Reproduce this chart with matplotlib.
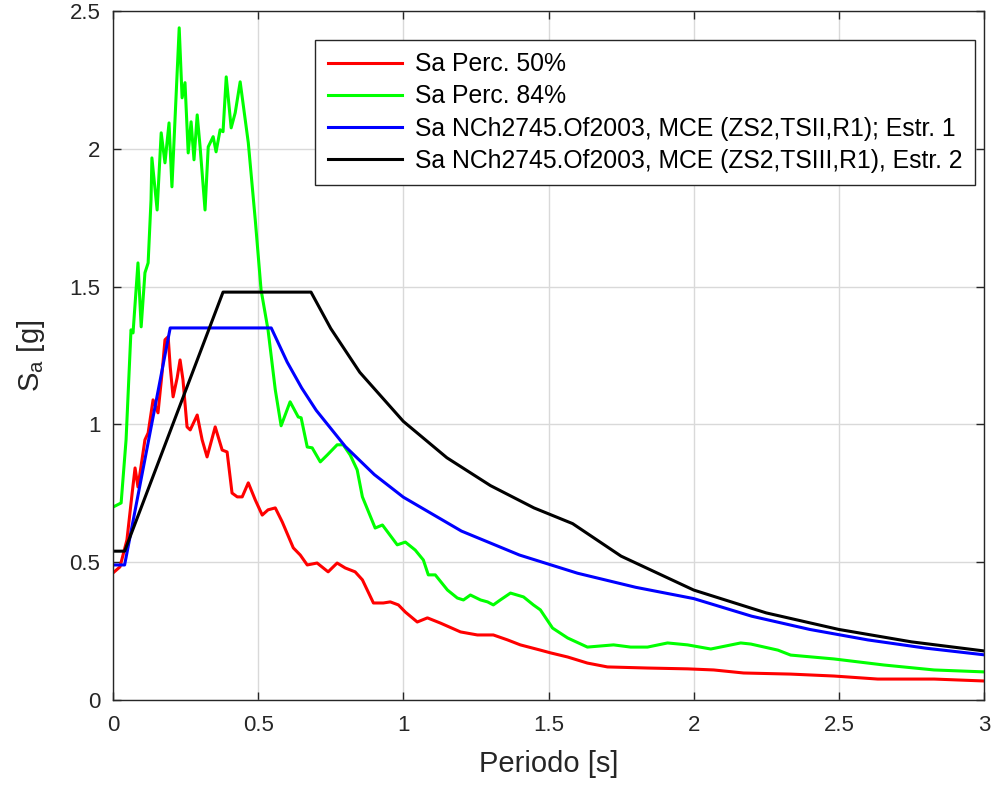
import numpy as np
import matplotlib.pyplot as plt
from matplotlib.ticker import FuncFormatter

plt.rcParams['font.family'] = ['Liberation Sans', 'DejaVu Sans']

# Sa percentil 50%
t_50 = [0, 0.024, 0.048, 0.066, 0.076, 0.086, 0.110, 0.121, 0.138, 0.155, 0.169, 0.179, 0.190, 0.197,
        0.207, 0.221, 0.231, 0.241, 0.255, 0.266, 0.290, 0.307, 0.324, 0.352, 0.376, 0.393, 0.410, 0.428,
        0.445, 0.466, 0.490, 0.514, 0.534, 0.559, 0.583, 0.621, 0.645, 0.669, 0.703, 0.741, 0.772, 0.800,
        0.834, 0.859, 0.897, 0.931, 0.955, 0.983, 1.007, 1.048, 1.083, 1.128, 1.197, 1.255, 1.310, 1.359,
        1.403, 1.472, 1.507, 1.566, 1.634, 1.703, 1.841, 1.979, 2.069, 2.172, 2.334, 2.483, 2.634, 2.828, 3.0]
sa_50 = [0.461, 0.483, 0.581, 0.751, 0.842, 0.773, 0.944, 0.969, 1.089, 1.042, 1.187, 1.307, 1.318, 1.209,
         1.100, 1.169, 1.234, 1.162, 0.991, 0.980, 1.034, 0.944, 0.882, 0.991, 0.907, 0.900, 0.751, 0.737,
         0.737, 0.788, 0.726, 0.671, 0.690, 0.697, 0.646, 0.552, 0.526, 0.490, 0.497, 0.465, 0.497, 0.479,
         0.465, 0.436, 0.352, 0.352, 0.356, 0.345, 0.319, 0.283, 0.298, 0.279, 0.247, 0.236, 0.236, 0.218,
         0.200, 0.181, 0.171, 0.156, 0.134, 0.120, 0.116, 0.113, 0.109, 0.098, 0.094, 0.087, 0.076, 0.076, 0.069]

# Sa percentil 84%
t_84 = [0, 0.028, 0.045, 0.062, 0.069, 0.086, 0.097, 0.110, 0.121, 0.131, 0.134, 0.152, 0.166, 0.179,
        0.193, 0.203, 0.228, 0.238, 0.248, 0.259, 0.269, 0.279, 0.290, 0.300, 0.317, 0.328, 0.345, 0.355,
        0.369, 0.379, 0.390, 0.407, 0.421, 0.438, 0.466, 0.490, 0.510, 0.534, 0.559, 0.579, 0.610, 0.638,
        0.648, 0.669, 0.686, 0.714, 0.738, 0.772, 0.793, 0.817, 0.841, 0.859, 0.903, 0.928, 0.979, 1.007,
        1.041, 1.069, 1.086, 1.110, 1.152, 1.186, 1.207, 1.231, 1.266, 1.290, 1.310, 1.334, 1.369, 1.414,
        1.448, 1.472, 1.514, 1.566, 1.634, 1.724, 1.783, 1.841, 1.910, 1.979, 2.059, 2.162, 2.197, 2.290,
        2.334, 2.483, 2.655, 2.828, 3.0]
sa_84 = [0.700, 0.715, 0.944, 1.343, 1.332, 1.586, 1.354, 1.550, 1.586, 1.815, 1.967, 1.778, 2.058, 1.949,
         2.094, 1.862, 2.439, 2.185, 2.240, 1.985, 2.098, 1.960, 2.123, 2.007, 1.778, 2.007, 2.044, 1.989,
         2.069, 2.062, 2.261, 2.076, 2.131, 2.243, 2.022, 1.742, 1.488, 1.343, 1.125, 0.995, 1.082, 1.027,
         1.024, 0.918, 0.915, 0.864, 0.889, 0.926, 0.926, 0.889, 0.835, 0.737, 0.624, 0.635, 0.563, 0.573,
         0.544, 0.508, 0.454, 0.454, 0.399, 0.370, 0.363, 0.381, 0.363, 0.356, 0.345, 0.363, 0.388, 0.374,
         0.345, 0.327, 0.261, 0.225, 0.192, 0.200, 0.192, 0.192, 0.207, 0.200, 0.185, 0.207, 0.203, 0.181,
         0.163, 0.149, 0.127, 0.109, 0.102]

# Espectro NCh2745, Estr. 1
t_e1 = [0, 0.04, 0.197, 0.545, 0.6, 0.65, 0.7, 0.8, 0.9, 1.0, 1.2, 1.4, 1.6, 1.8, 2.0,
        2.2, 2.4, 2.6, 2.8, 3.0]
sa_e1 = [0.49, 0.49, 1.35, 1.35, 1.226, 1.132, 1.051, 0.920, 0.818, 0.736, 0.613, 0.526, 0.460, 0.409, 0.368,
         0.304, 0.256, 0.218, 0.188, 0.164]

# Espectro NCh2745, Estr. 2
t_e2 = [0, 0.04, 0.379, 0.682, 0.75, 0.85, 1.0, 1.15, 1.3, 1.45, 1.583, 1.75, 2.0, 2.25, 2.5, 2.75, 3.0]
sa_e2 = [0.54, 0.54, 1.48, 1.48, 1.348, 1.189, 1.011, 0.879, 0.778, 0.697, 0.64, 0.522, 0.399, 0.316,
         0.256, 0.211, 0.178]

labels = ['Sa Perc. 50%', 'Sa Perc. 84%',
          'Sa NCh2745.Of2003, MCE (ZS2,TSII,R1); Estr. 1',
          'Sa NCh2745.Of2003, MCE (ZS2,TSIII,R1), Estr. 2']

fig = plt.figure(figsize=(9.92, 7.9), dpi=100)
ax = fig.add_axes([113/992, 90/790, 871/992, 689/790])

lw = 2.2
ax.plot(t_50, sa_50, color='#ff0000', lw=lw, label=labels[0])
ax.plot(t_84, sa_84, color='#00ff00', lw=lw, label=labels[1])
ax.plot(t_e1, sa_e1, color='#0000ff', lw=lw, label=labels[2])
ax.plot(t_e2, sa_e2, color='#000000', lw=lw, label=labels[3])

ax.set_xlim(0, 3)
ax.set_ylim(0, 2.5)
ax.set_xticks(np.arange(0, 3.01, 0.5))
ax.set_yticks(np.arange(0, 2.51, 0.5))
fmt = FuncFormatter(lambda v, p: '%g' % v)
ax.xaxis.set_major_formatter(fmt)
ax.yaxis.set_major_formatter(fmt)
ax.tick_params(direction='in', top=True, right=True, length=6, width=1, labelsize=16,
               colors='#262626')
ax.tick_params(axis='x', pad=11)
ax.tick_params(axis='y', pad=9)
ax.grid(True, color='#d9d9d9', linewidth=1)
ax.set_axisbelow(True)
for s in ax.spines.values():
    s.set_color('#262626')
    s.set_linewidth(1)

ax.set_xlabel('Periodo [s]', fontsize=21, color='#262626', labelpad=10)
ax.set_ylabel(r'$\mathregular{S_a}$ [g]', fontsize=21, color='#262626', labelpad=16)

leg = ax.legend(loc='upper right', bbox_to_anchor=(0.99, 0.958), borderaxespad=0,
                fontsize=17.8, fancybox=False, edgecolor='#262626', framealpha=1,
                handlelength=3.0, handletextpad=0.55, labelspacing=0.33, borderpad=0.5)
leg.get_frame().set_linewidth(1)

fig.savefig('out.png', dpi=100)
